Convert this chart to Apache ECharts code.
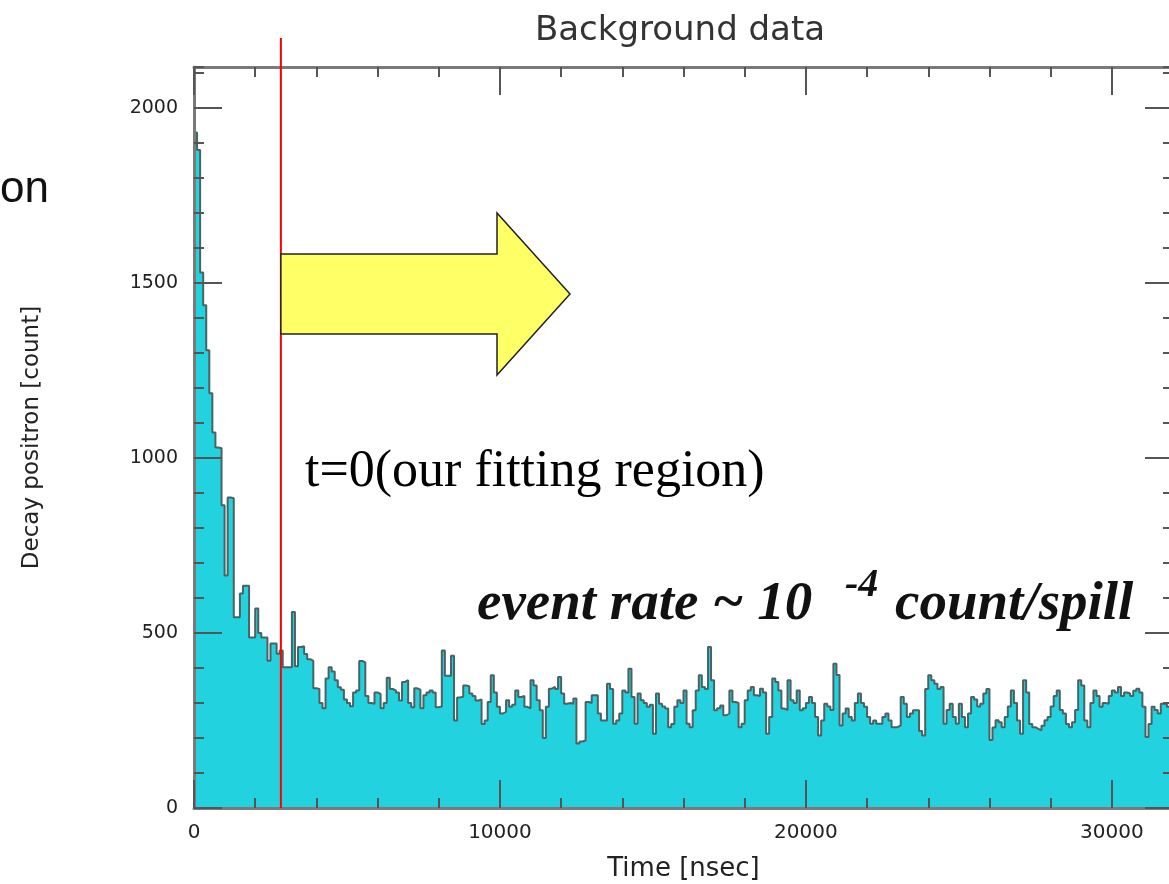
<!DOCTYPE html>
<html><head><meta charset="utf-8">
<script src="https://cdn.jsdelivr.net/npm/echarts@6/dist/echarts.min.js"></script>
<style>html,body{margin:0;padding:0;background:#fff}#c{width:1169px;height:884px}</style>
</head><body><div id="c"></div>
<script>
// ---- data ----
const binStart = 0;      // ns
const binWidth = 100;    // ns
const counts = [
  1930,1880,1530,1436,1308,1185,1073,1030,1028,865,
  664,887,885,545,545,613,635,635,487,487,
  570,500,487,487,421,470,470,441,450,402,
  402,402,560,405,460,462,440,425,420,342,
  340,300,285,370,402,390,365,345,338,310,
  300,291,330,336,420,416,320,300,298,330,
  326,285,300,372,340,336,330,307,360,365,
  300,288,342,338,285,322,330,336,330,288,
  290,450,378,378,435,250,316,318,350,348,
  327,320,307,310,240,250,303,379,330,289,
  270,275,308,289,295,336,317,320,289,285,
  365,350,308,279,200,289,341,346,340,374,
  327,298,300,298,313,184,190,193,303,300,
  322,322,270,250,250,355,340,241,250,270,
  336,330,398,317,241,327,308,300,289,295,
  212,327,298,290,284,231,240,289,308,300,
  336,241,231,279,336,379,346,340,460,365,
  279,285,293,265,270,336,303,300,231,241,
  308,336,346,322,320,341,330,212,260,370,
  360,336,284,280,365,308,300,336,279,285,
  300,317,300,260,207,250,298,290,280,412,
  380,236,270,284,260,250,300,327,300,289,
  260,241,250,241,241,260,270,250,231,231,
  236,317,298,260,270,279,279,220,207,340,
  379,365,355,340,346,241,280,298,260,241,
  298,260,231,270,317,310,290,298,327,340,
  194,230,251,245,231,260,290,336,300,250,
  212,365,330,240,231,226,222,235,251,260,
  290,320,336,280,270,240,231,245,280,365,
  350,250,231,300,336,320,289,300,298,320,
  336,330,346,320,330,327,320,335,341,330,
  289,203,240,289,280,270,298,298,289,300
];
const xMin = 0, xMax = 32000, xMinorStep = 2000;
const xMajorTicks = [0, 10000, 20000, 30000];
const yMin = 0, yMax = 2117, yMinorStep = 100;
const yMajorTicks = [0, 500, 1000, 1500, 2000];
const fitStart = 2840;   // red line, ns
const titleText = 'Background data';
const xName = 'Time [nsec]';
const yName = 'Decay positron [count]';

// ---- build ----
const histData = counts.map((v, i) => [binStart + i * binWidth, v]);
histData.push([binStart + counts.length * binWidth, counts[counts.length - 1]]);

const FONT = 'DejaVu Sans';
const lineCol = '#7a7a7a', tickCol = '#555';
const plain = v => String(v);
function xAx(pos, major) {
  return {
    type: 'value', position: pos, min: xMin, max: xMax, interval: xMinorStep, z: 10,
    axisLine: { show: !major, onZero: false, lineStyle: { color: lineCol, width: 3 } },
    axisTick: major ? { show: true, inside: true, length: 28, customValues: xMajorTicks, lineStyle: { color: tickCol, width: 2 } }
                    : { show: true, inside: true, length: 10, lineStyle: { color: tickCol, width: 2 } },
    axisLabel: (pos === 'bottom' && !major) ? { customValues: xMajorTicks, formatter: plain, fontFamily: FONT, fontSize: 20, color: '#222', margin: 15 } : { show: false },
    splitLine: { show: false },
    name: (pos === 'bottom' && !major) ? xName : '',
    nameLocation: 'middle', nameGap: 48,
    nameTextStyle: { fontFamily: FONT, fontSize: 26, color: '#222' }
  };
}
function yAx(pos, major) {
  return {
    type: 'value', position: pos, min: yMin, max: yMax, interval: yMinorStep, z: 10,
    axisLine: { show: !major && pos === 'left', onZero: false, lineStyle: { color: lineCol, width: 3 } },
    axisTick: major ? { show: true, inside: true, length: 28, customValues: yMajorTicks, lineStyle: { color: tickCol, width: 2 } }
                    : { show: true, inside: true, length: 10, lineStyle: { color: tickCol, width: 2 } },
    axisLabel: (pos === 'left' && !major) ? { customValues: yMajorTicks, formatter: plain, fontFamily: FONT, fontSize: 19, color: '#222', margin: 16 } : { show: false },
    splitLine: { show: false },
    name: (pos === 'left' && !major) ? yName : '',
    nameLocation: 'middle', nameGap: 150, nameRotate: 90,
    nameTextStyle: { fontFamily: FONT, fontSize: 23, color: '#222' }
  };
}

const chart = echarts.init(document.getElementById('c'), null, { renderer: 'canvas' });
chart.setOption({
  animation: false,
  backgroundColor: '#fff',
  grid: { left: 194, top: 67, width: 979, height: 741, containLabel: false, outerBoundsMode: 'none' },
  xAxis: [xAx('bottom', false), xAx('bottom', true), xAx('top', false), xAx('top', true)],
  yAxis: [yAx('left', false), yAx('left', true), yAx('right', false), yAx('right', true)],
  series: [{
    type: 'line', xAxisIndex: 0, yAxisIndex: 0, step: 'end',
    data: histData, showSymbol: false, symbol: 'none', z: 2,
    lineStyle: { color: '#4a6262', width: 2 },
    areaStyle: { color: '#22d3df', opacity: 1 }
  }]
});

const redX = chart.convertToPixel({ xAxisIndex: 0 }, fitStart);
const baseY = chart.convertToPixel({ yAxisIndex: 0 }, 0);
chart.setOption({
  graphic: [
    { type: 'text', z: 20,
      style: { text: titleText, x: 680, y: 31, align: 'center', verticalAlign: 'middle', font: '34px "DejaVu Sans"', fill: '#333' } },
    { type: 'text', z: 20,
      style: { text: 'on', x: 0, y: 190, align: 'left', verticalAlign: 'middle', font: '44px "Liberation Sans"', fill: '#111' } },
    { type: 'line', z: 30, shape: { x1: redX, y1: 38, x2: redX, y2: baseY }, style: { stroke: '#ff0000', lineWidth: 2 } },
    { type: 'polygon', z: 31,
      shape: { points: [[redX, 254], [497, 254], [497, 213], [570, 294], [497, 375], [497, 334], [redX, 334]] },
      style: { fill: '#ffff66', stroke: '#222', lineWidth: 1.5 } },
    { type: 'text', z: 32,
      style: { text: 't=0(our fitting region)', x: 305, y: 472, align: 'left', verticalAlign: 'middle', font: '52px "Liberation Serif"', fill: '#000' } },
    { type: 'text', z: 32,
      style: { text: 'event rate ~ 10', x: 477, y: 605, align: 'left', verticalAlign: 'middle', font: 'italic bold 55px "Liberation Serif"', fill: '#111' } },
    { type: 'text', z: 32,
      style: { text: '-4', x: 845, y: 586, align: 'left', verticalAlign: 'middle', font: 'italic bold 40px "Liberation Serif"', fill: '#111' } },
    { type: 'text', z: 32,
      style: { text: 'count/spill', x: 895, y: 605, align: 'left', verticalAlign: 'middle', font: 'italic bold 55px "Liberation Serif"', fill: '#111' } }
  ]
});
</script></body></html>
